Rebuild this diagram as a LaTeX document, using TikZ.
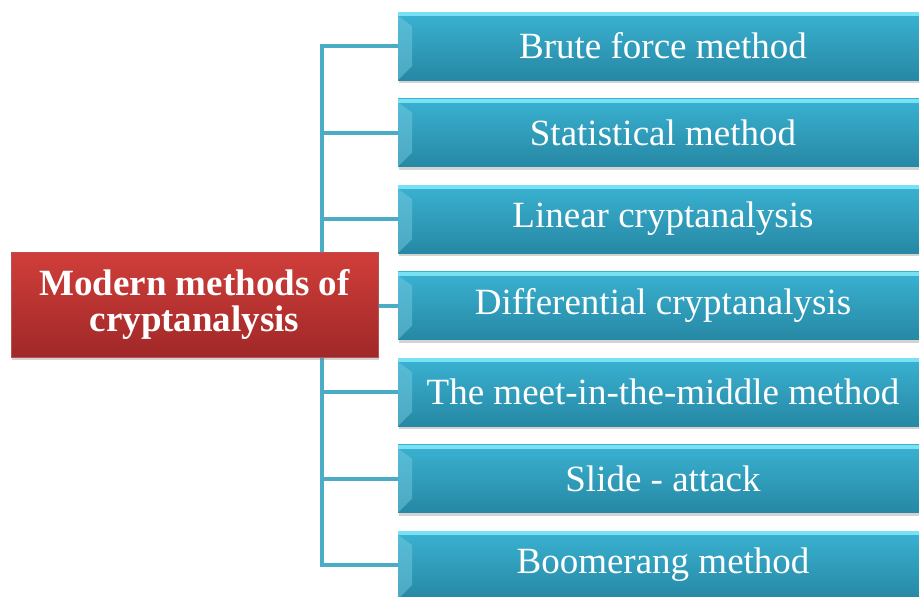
\documentclass[tikz,border=0pt]{standalone}
\usepackage{fontspec}
\setmainfont{Liberation Serif}
\usetikzlibrary{shadows,backgrounds}
\definecolor{tealtop}{RGB}{58,178,210}
\definecolor{tealbot}{RGB}{38,136,164}
\definecolor{tealedge}{RGB}{120,226,244}
\definecolor{linkteal}{RGB}{75,172,198}
\definecolor{redtop}{RGB}{208,62,58}
\definecolor{redbot}{RGB}{160,40,40}
\tikzset{
  itembox/.style={rectangle, minimum width=530pt, minimum height=68pt, inner sep=0pt,
    top color=tealtop, bottom color=tealbot, text=white,
    font=\fontsize{37}{40}\selectfont,
    drop shadow={opacity=0.35, shadow xshift=1pt, shadow yshift=-3pt},
    path picture={
      \fill[tealedge] (path picture bounding box.north west) rectangle ([yshift=-4pt]path picture bounding box.north east);
      \fill[tealtop!70!white, opacity=0.5] ([yshift=-4pt]path picture bounding box.north west) -- ++(14pt,-10pt) -- ([xshift=14pt,yshift=14pt]path picture bounding box.south west) -- (path picture bounding box.south west) -- cycle;
    }},
  rootbox/.style={rectangle, minimum width=367pt, minimum height=105pt, inner sep=0pt,
    top color=redtop, bottom color=redbot, draw=redbot!80!white, line width=0.5pt,
    text=white, align=center, font=\bfseries\fontsize{37}{36}\selectfont,
    drop shadow={opacity=0.35, shadow xshift=1pt, shadow yshift=-3pt}},
  link/.style={draw=linkteal, line width=4pt}
}
\begin{document}
\begin{tikzpicture}[x=1pt, y=-1pt]
  \useasboundingbox (0,0) rectangle (919,597);
  % trunk of the tree
  \coordinate (trunk) at (322,0);
  \node[rootbox] (root) at (194.5,304.5) {Modern methods of\\cryptanalysis};
  % methods
  \foreach \txt [count=\i] in {Brute force method, Statistical method,
      Linear cryptanalysis, Differential cryptanalysis,
      The meet-in-the-middle method, Slide - attack, Boomerang method} {
    \node[itembox] (m\i) at (663,{46+(\i-1)*86.5}) {\txt};
    \begin{pgfonlayer}{background}
      \draw[link] (trunk |- root.center) |- (m\i.west);
    \end{pgfonlayer}
  }
\end{tikzpicture}
\end{document}
